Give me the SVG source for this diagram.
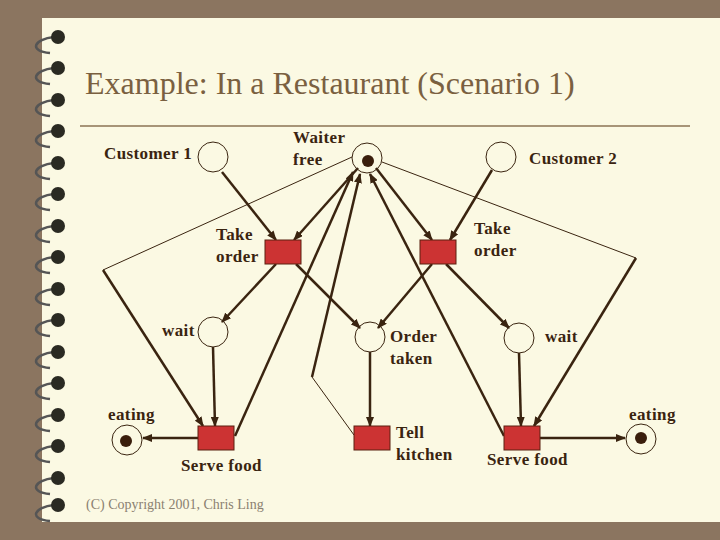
<svg xmlns="http://www.w3.org/2000/svg" width="720" height="540" viewBox="0 0 720 540">
<style>
.pl{fill:none;stroke:#3a2410;stroke-width:1}
.tr{fill:#cc3333;stroke:#5a2010;stroke-width:1}
.tok{fill:#3a1e0c}
.a{stroke:#3a2410;stroke-width:2.5;fill:none;marker-end:url(#ah)}
.th{stroke:#3a2410;stroke-width:1;fill:none}
.lb{font-family:'Liberation Serif',serif;font-weight:bold;font-size:17px;letter-spacing:0.4px;fill:#3a2410}
</style>
<defs>
<marker id="ah" markerWidth="10" markerHeight="8" refX="9" refY="4" orient="auto" markerUnits="userSpaceOnUse"><path d="M0,0L10,4L0,8Z" fill="#3a2410"/></marker>
<g id="ring"><path d="M16,8 C-4,10 -10,22 12,24" fill="none" stroke="#555" stroke-width="2.5"/><circle cx="20" cy="8" r="7" fill="#2a2a22"/></g>
</defs>
<rect width="720" height="540" fill="#8b7560"/>
<rect x="42" y="18" width="678" height="504" fill="#fbf9e3"/>
<g id="binding">
<use href="#ring" x="38" y="29"/><use href="#ring" x="38" y="60"/><use href="#ring" x="38" y="92"/><use href="#ring" x="38" y="123"/><use href="#ring" x="38" y="155"/><use href="#ring" x="38" y="186"/><use href="#ring" x="38" y="218"/><use href="#ring" x="38" y="249"/><use href="#ring" x="38" y="281"/><use href="#ring" x="38" y="312"/><use href="#ring" x="38" y="344"/><use href="#ring" x="38" y="375"/><use href="#ring" x="38" y="407"/><use href="#ring" x="38" y="438"/><use href="#ring" x="38" y="470"/><use href="#ring" x="38" y="497"/>
</g>
<text x="85" y="94" font-family="'Liberation Serif',serif" font-size="32" fill="#7a6040">Example: In a Restaurant (Scenario 1)</text>
<line x1="80" y1="126" x2="690" y2="126" stroke="#8b7355" stroke-width="1.5"/>
<g id="connectors">
<line class="a" x1="222" y1="172" x2="276" y2="240"/>
<line class="a" x1="358" y1="168" x2="294" y2="240"/>
<line class="a" x1="376" y1="168" x2="432" y2="240"/>
<line class="a" x1="492" y1="170" x2="450" y2="240"/>
<line class="a" x1="276" y1="264" x2="222" y2="322"/>
<line class="a" x1="296" y1="264" x2="360" y2="328"/>
<line class="a" x1="432" y1="264" x2="378" y2="328"/>
<line class="a" x1="446" y1="264" x2="509" y2="328"/>
<line class="a" x1="213" y1="347" x2="215" y2="426"/>
<line class="a" x1="370" y1="352" x2="370" y2="426"/>
<line class="a" x1="519" y1="353" x2="521" y2="426"/>
<line class="a" x1="235" y1="436" x2="353" y2="172"/>
<line class="th" x1="354" y1="435" x2="312" y2="377"/>
<line class="a" x1="312" y1="377" x2="360" y2="174"/>
<line class="a" x1="504" y1="436" x2="370" y2="174"/>
<line class="th" x1="352" y1="157" x2="103" y2="270"/>
<line class="a" x1="103" y1="270" x2="203" y2="426"/>
<line class="th" x1="382" y1="162" x2="636" y2="258"/>
<line class="a" x1="636" y1="258" x2="534" y2="426"/>
<line class="a" x1="198" y1="438" x2="143" y2="438"/>
<line class="a" x1="540" y1="438" x2="625" y2="438"/>
</g>
<g id="customer1"><circle class="pl" cx="213" cy="157" r="15"/><text class="lb" x="104" y="159">Customer 1</text></g>
<g id="waiter"><circle class="pl" cx="367" cy="158" r="15"/><circle class="tok" cx="368" cy="161" r="6"/><text class="lb" x="293" y="143">Waiter</text><text class="lb" x="293" y="165">free</text></g>
<g id="customer2"><circle class="pl" cx="501" cy="157" r="15"/><text class="lb" x="529" y="164">Customer 2</text></g>
<g id="takeorder1"><rect class="tr" x="265" y="240" width="36" height="24"/><text class="lb" x="216" y="240">Take</text><text class="lb" x="216" y="262">order</text></g>
<g id="takeorder2"><rect class="tr" x="420" y="240" width="36" height="24"/><text class="lb" x="474" y="234">Take</text><text class="lb" x="474" y="256">order</text></g>
<g id="wait1"><circle class="pl" cx="213" cy="332" r="15"/><text class="lb" x="162" y="336">wait</text></g>
<g id="ordertaken"><circle class="pl" cx="370" cy="337" r="15"/><text class="lb" x="390" y="342">Order</text><text class="lb" x="390" y="364">taken</text></g>
<g id="wait2"><circle class="pl" cx="519" cy="338" r="15"/><text class="lb" x="545" y="342">wait</text></g>
<g id="servefood1"><rect class="tr" x="198" y="426" width="36" height="24"/><text class="lb" x="181" y="471">Serve food</text></g>
<g id="tellkitchen"><rect class="tr" x="354" y="426" width="36" height="24"/><text class="lb" x="396" y="438">Tell</text><text class="lb" x="396" y="460">kitchen</text></g>
<g id="servefood2"><rect class="tr" x="504" y="426" width="36" height="24"/><text class="lb" x="487" y="465">Serve food</text></g>
<g id="eating1"><circle class="pl" cx="127" cy="440" r="15"/><circle class="tok" cx="126" cy="441" r="6"/><text class="lb" x="108" y="420">eating</text></g>
<g id="eating2"><circle class="pl" cx="641" cy="439" r="15"/><circle class="tok" cx="641" cy="438" r="6"/><text class="lb" x="629" y="420">eating</text></g>
<text x="86" y="509" font-family="'Liberation Serif',serif" font-size="14" fill="#8a8070">(C) Copyright 2001, Chris Ling</text>
</svg>
